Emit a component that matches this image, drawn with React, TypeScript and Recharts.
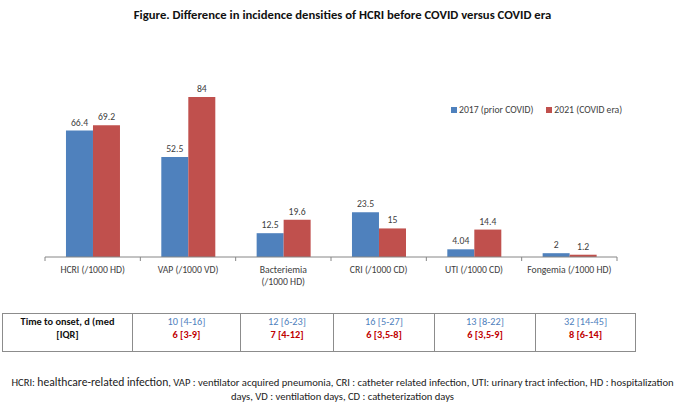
import React from "react";
import { BarChart, Bar, XAxis, YAxis, LabelList } from "recharts";

const categories = [
  "HCRI (/1000 HD)",
  "VAP (/1000 VD)",
  "Bacteriemia\n(/1000 HD)",
  "CRI (/1000 CD)",
  "UTI (/1000 CD)",
  "Fongemia (/1000 HD)",
];
const series2017 = [66.4, 52.5, 12.5, 23.5, 4.04, 2];
const series2021 = [69.2, 84, 19.6, 15, 14.4, 1.2];
const seriesNames = ["2017 (prior COVID)", "2021 (COVID era)"];

const tableHeader = ["Time to onset, d (med", "[IQR]"];
const onset2017 = ["10 [4-16]", "12 [6-23]", "16 [5-27]", "13 [8-22]", "32 [14-45]"];
const onset2021 = ["6 [3-9]", "7 [4-12]", "6 [3,5-8]", "6 [3,5-9]", "8 [6-14]"];

const titleText = "Figure. Difference in incidence densities of HCRI before COVID versus COVID era";
const footerLine1 = [
  "HCRI: ",
  "healthcare-related infection",
  ", VAP : ventilator acquired pneumonia, CRI : catheter related infection, UTI: urinary tract infection, HD : hospitalization",
];
const footerLine2 = "days, VD : ventilation days, CD : catheterization days";

const data = categories.map((c, i) => ({ name: c, a: series2017[i], b: series2021[i] }));

const BLUE = "#4F81BD";
const RED = "#C0504D";
const FONT = "Carlito, Lato, sans-serif";
const AXIS = "#868686";
const LBL = 9.7;

const colEdges = [2, 132, 240, 333, 434, 535, 636];

const Tick = (props: any) => {
  const { x, y, payload, index } = props;
  const half = 572 / 6 / 2;
  const lines = String(payload.value).split("\n");
  return (
    <g>
      <line x1={x - half} x2={x - half} y1={y - 8} y2={y - 4} stroke={AXIS} />
      {index === categories.length - 1 && (
        <line x1={x + half} x2={x + half} y1={y - 8} y2={y - 4} stroke={AXIS} />
      )}
      <text x={x} y={y + 8} textAnchor="middle" fontSize={LBL} fill="#404040" fontFamily={FONT}>
        {lines.map((l, i) => (
          <tspan key={i} x={x} dy={i === 0 ? 0 : 12}>
            {l}
          </tspan>
        ))}
      </text>
    </g>
  );
};

export default function App() {
  return (
    <div
      style={{
        position: "absolute",
        left: 0,
        top: 0,
        width: 685,
        height: 406,
        background: "#fff",
        fontFamily: FONT,
        overflow: "hidden",
      }}
    >
      <div
        style={{
          position: "absolute",
          top: 7,
          left: 0,
          width: 685,
          textAlign: "center",
          fontWeight: 700,
          fontSize: 12.7,
          color: "#111",
        }}
      >
        {titleText}
      </div>

      <div style={{ position: "absolute", top: 0, left: 0 }}>
        <BarChart
          width={685}
          height={300}
          data={data}
          margin={{ top: 85.6, right: 68, left: 45, bottom: 13 }}
          barCategoryGap="22%"
          barGap={0}
        >
          <XAxis
            dataKey="name"
            height={30}
            interval={0}
            axisLine={{ stroke: AXIS }}
            tickLine={false}
            tick={<Tick />}
          />
          <YAxis hide domain={[0, 90]} />
          <Bar dataKey="a" fill={BLUE} isAnimationActive={false}>
            <LabelList dataKey="a" position="top" fontSize={LBL} fill="#404040" fontFamily={FONT} />
          </Bar>
          <Bar dataKey="b" fill={RED} isAnimationActive={false}>
            <LabelList dataKey="b" position="top" fontSize={LBL} fill="#404040" fontFamily={FONT} />
          </Bar>
        </BarChart>
      </div>

      <div
        style={{
          position: "absolute",
          top: 104,
          left: 451,
          fontSize: LBL,
          color: "#404040",
          whiteSpace: "nowrap",
          display: "flex",
          alignItems: "center",
        }}
      >
        {seriesNames.map((n, i) => (
          <span key={n} style={{ display: "inline-flex", alignItems: "center", marginRight: i === 0 ? 13 : 0 }}>
            <span style={{ width: 6, height: 6, background: i === 0 ? BLUE : RED, marginRight: 2, display: "inline-block" }} />
            {n}
          </span>
        ))}
      </div>

      {colEdges.slice(0, -1).map((left, i) => {
        const w = colEdges[i + 1] - left;
        return (
          <div
            key={i}
            style={{
              position: "absolute",
              top: 313,
              left,
              width: w,
              height: 39,
              boxSizing: "border-box",
              borderTop: "1.5px solid #8c8c8c",
              borderBottom: "1.5px solid #8c8c8c",
              borderLeft: "1.5px solid #8c8c8c",
              borderRight: i === colEdges.length - 2 ? "1.5px solid #8c8c8c" : "none",
              textAlign: "center",
              fontSize: 10.3,
              lineHeight: "13px",
              paddingTop: 1,
            }}
          >
            {i === 0 ? (
              <div style={{ fontWeight: 700, color: "#111" }}>
                {tableHeader[0]}
                <br />
                {tableHeader[1]}
              </div>
            ) : (
              <div>
                <div style={{ color: BLUE }}>{onset2017[i - 1]}</div>
                <div style={{ color: "#C00000", fontWeight: 700 }}>{onset2021[i - 1]}</div>
              </div>
            )}
          </div>
        );
      })}

      <div
        style={{
          position: "absolute",
          top: 376,
          left: 0,
          width: 685,
          textAlign: "center",
          fontSize: 10.6,
          lineHeight: "13.5px",
          color: "#222",
        }}
      >
        <div style={{ whiteSpace: "nowrap" }}>
          {footerLine1[0]}
          <span style={{ fontSize: 11.6 }}>{footerLine1[1]}</span>
          {footerLine1[2]}
        </div>
        <div style={{ whiteSpace: "nowrap" }}>{footerLine2}</div>
      </div>
    </div>
  );
}
